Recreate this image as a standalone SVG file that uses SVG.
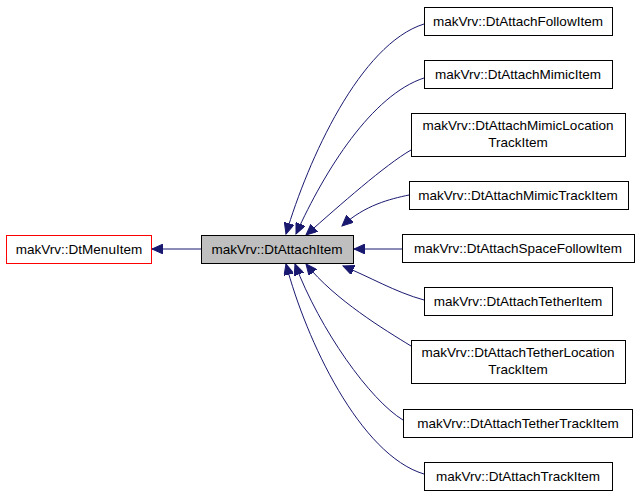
<svg xmlns="http://www.w3.org/2000/svg" width="637" height="499" viewBox="0 0 637 499">
<style>
.n rect{fill:#fff;stroke:#000;stroke-width:1}
text{font-family:"Liberation Sans",Arial,sans-serif;font-size:13.5px;text-anchor:middle;fill:#000}
.e path{fill:none;stroke:#191970;stroke-width:1;marker-end:url(#a)}
</style>
<defs><marker id="a" markerWidth="12" markerHeight="10" refX="11" refY="5" orient="auto" markerUnits="userSpaceOnUse"><path d="M0,0 L11,5 L0,10 Z" fill="#191970" stroke="#191970"/></marker></defs>
<rect width="637" height="499" fill="#fff"/>
<g class="e">
<path d="M201,249 L152,249"/>
<path d="M424,24 C360,44 308,160 286,234"/>
<path d="M424,78 C372,95 325,170 296,234"/>
<path d="M411,150 C385,165 340,205 306,235"/>
<path d="M409,195 C390,199 365,205 342,226"/>
<path d="M402,249 L354,249"/>
<path d="M424,300 C395,292 370,277 343,266"/>
<path d="M411,346 C385,330 335,300 306,264"/>
<path d="M403,420 C370,400 320,330 295,264"/>
<path d="M424,474 C360,455 306,340 286,264"/>
</g>
<g id="menu" class="n"><rect x="6.5" y="235.5" width="145" height="28" style="stroke:#f00"/><text x="79" y="254">makVrv::DtMenuItem</text></g>
<g id="attach" class="n"><rect x="201.5" y="235.5" width="152" height="28" style="fill:#bfbfbf"/><text x="277" y="254">makVrv::DtAttachItem</text></g>
<g id="n1" class="n"><rect x="424.5" y="7.5" width="188" height="28"/><text x="518" y="26">makVrv::DtAttachFollowItem</text></g>
<g id="n2" class="n"><rect x="424.5" y="60.5" width="188" height="28"/><text x="518" y="79">makVrv::DtAttachMimicItem</text></g>
<g id="n3" class="n"><rect x="411.5" y="113.5" width="214" height="43"/><text x="518" y="130">makVrv::DtAttachMimicLocation</text><text x="518" y="147">TrackItem</text></g>
<g id="n4" class="n"><rect x="409.5" y="181.5" width="219" height="28"/><text x="518" y="200">makVrv::DtAttachMimicTrackItem</text></g>
<g id="n5" class="n"><rect x="402.5" y="234.5" width="232" height="28"/><text x="518" y="253">makVrv::DtAttachSpaceFollowItem</text></g>
<g id="n6" class="n"><rect x="424.5" y="287.5" width="188" height="28"/><text x="518" y="306">makVrv::DtAttachTetherItem</text></g>
<g id="n7" class="n"><rect x="411.5" y="340.5" width="214" height="43"/><text x="518" y="357">makVrv::DtAttachTetherLocation</text><text x="518" y="374">TrackItem</text></g>
<g id="n8" class="n"><rect x="403.5" y="409.5" width="229" height="28"/><text x="518" y="428">makVrv::DtAttachTetherTrackItem</text></g>
<g id="n9" class="n"><rect x="424.5" y="462.5" width="188" height="28"/><text x="518" y="481">makVrv::DtAttachTrackItem</text></g>
</svg>
